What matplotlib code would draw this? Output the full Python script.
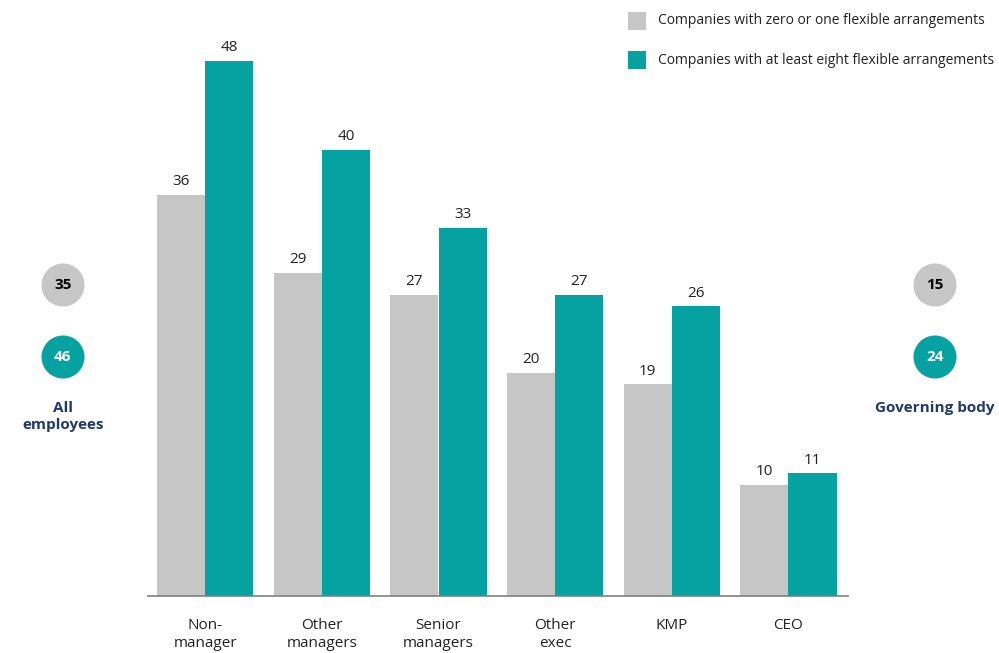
import matplotlib
matplotlib.use("Agg")
import matplotlib.pyplot as plt
from matplotlib.patches import Circle, Rectangle
import numpy as np

categories = ["Non-\nmanager", "Other\nmanagers", "Senior\nmanagers", "Other\nexec", "KMP", "CEO"]
low_flex = [36, 29, 27, 20, 19, 10]
high_flex = [48, 40, 33, 27, 26, 11]
series_names = ["Companies with zero or one flexible arrangements",
                "Companies with at least eight flexible arrangements"]
all_emp = [35, 46]
gov_body = [15, 24]
side_labels = ["All\nemployees", "Governing body"]

GRAY = "#C6C6C6"
TEAL = "#06A1A1"
NAVY = "#1F3A6B"
FONT = "Open Sans"

W, H = 999, 653
fig = plt.figure(figsize=(W/100, H/100), dpi=100)
plt.rcParams['font.family'] = [FONT, 'DejaVu Sans']

left, right, base, top = 148, 848, 596, 56
ax = fig.add_axes([left/W, (H-base)/H, (right-left)/W, (base-top)/H])
x = np.arange(len(categories))
bw = 0.412
b1 = ax.bar(x - bw/2, low_flex, bw, color=GRAY, linewidth=0)
b2 = ax.bar(x + bw/2, high_flex, bw, color=TEAL, linewidth=0)
ax.set_xlim(-0.49, 5.51)
ax.set_ylim(0, (base-top)/11.15)
for bars, vals in ((b1, low_flex), (b2, high_flex)):
    for r, v in zip(bars, vals):
        ax.annotate(str(v), (r.get_x() + r.get_width()/2, v), xytext=(0, 4),
                    textcoords="offset points", ha="center", va="bottom",
                    fontsize=11, color="#222222")
for s in ("left", "right", "top"):
    ax.spines[s].set_visible(False)
ax.spines["bottom"].set_color("#808080")
ax.spines["bottom"].set_linewidth(1.2)
ax.set_yticks([])
ax.set_xticks(x)
ax.set_xticklabels(categories, fontsize=11, color="#222222", linespacing=1.25)
ax.tick_params(axis="x", length=0, pad=16)

# overlay in pixel coordinates
ov = fig.add_axes([0, 0, 1, 1])
ov.set_xlim(0, W)
ov.set_ylim(H, 0)
ov.axis("off")
ov.patch.set_alpha(0)

# legend
for i, (name, col) in enumerate(zip(series_names, [GRAY, TEAL])):
    y = 21 + i*39
    ov.add_patch(Rectangle((628, y-9), 18, 18, color=col, lw=0))
    ov.text(658, y, name, fontsize=10, va="center", ha="left", color="#222222")

# side circles
for cx, vals, lab in ((63, all_emp, side_labels[0]), (935, gov_body, side_labels[1])):
    for val, cy, col, tc in ((vals[0], 285, GRAY, "black"), (vals[1], 357, TEAL, "white")):
        ov.add_patch(Circle((cx, cy), 21.5, color=col, lw=0))
        ov.text(cx, cy, str(val), ha="center", va="center", fontsize=11,
                fontweight="bold", color=tc)
    ov.text(cx, 401, lab, ha="center", va="top", fontsize=11, fontweight="bold",
            color=NAVY, linespacing=1.3)

fig.savefig("out.png", dpi=100)
